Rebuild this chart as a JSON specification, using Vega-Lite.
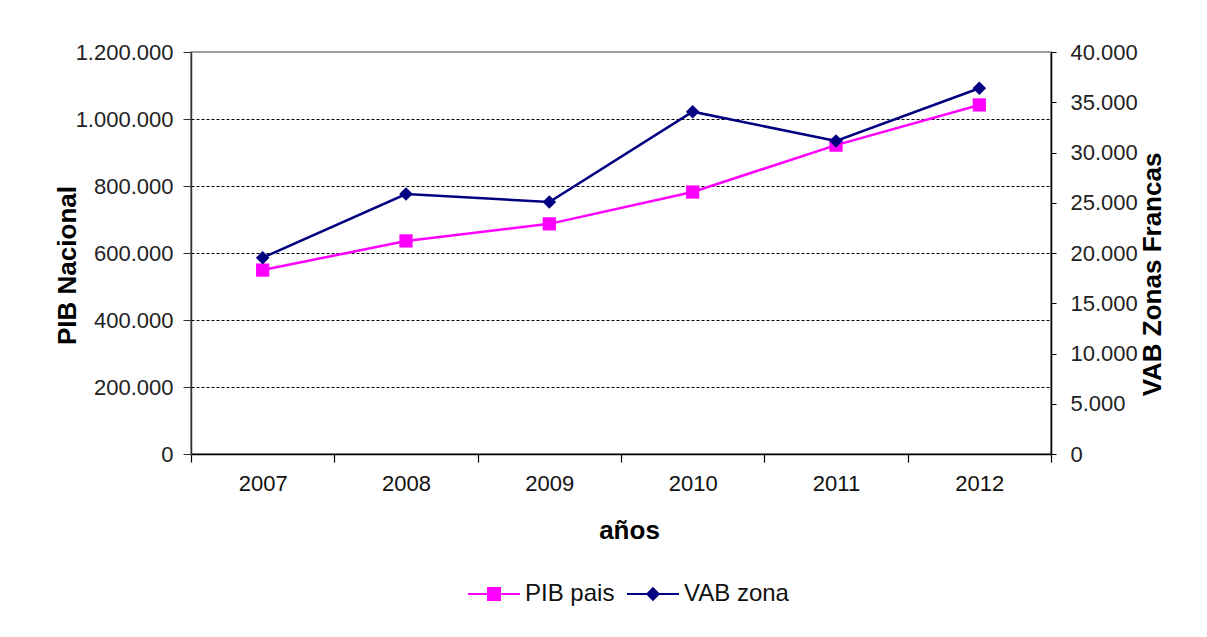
{
  "$schema": "https://vega.github.io/schema/vega-lite/v6.json",
  "autosize": {"type": "none"},
  "padding": {"left": 191, "top": 52, "right": 156, "bottom": 183},
  "width": 860,
  "height": 402,
  "background": "white",
  "data": {
    "values": [
      {"anio": "2007", "serie": "PIB pais", "valor": 549000},
      {"anio": "2008", "serie": "PIB pais", "valor": 636000},
      {"anio": "2009", "serie": "PIB pais", "valor": 687000},
      {"anio": "2010", "serie": "PIB pais", "valor": 782000},
      {"anio": "2011", "serie": "PIB pais", "valor": 922000},
      {"anio": "2012", "serie": "PIB pais", "valor": 1042000},
      {"anio": "2007", "serie": "VAB zona", "valor": 19530},
      {"anio": "2008", "serie": "VAB zona", "valor": 25870},
      {"anio": "2009", "serie": "VAB zona", "valor": 25080},
      {"anio": "2010", "serie": "VAB zona", "valor": 34060},
      {"anio": "2011", "serie": "VAB zona", "valor": 31140},
      {"anio": "2012", "serie": "VAB zona", "valor": 36390}
    ]
  },
  "encoding": {
    "x": {
      "field": "anio",
      "type": "ordinal",
      "bandPosition": 0.5,
      "scale": {"type": "band", "paddingInner": 0, "paddingOuter": 0},
      "axis": {
        "title": "años",
        "titleFontSize": 26,
        "titleFontWeight": "bold",
        "titleColor": "black",
        "titleX": 438,
        "titleY": 84,
        "titleBaseline": "alphabetic",
        "titleAlign": "center",
        "labelAngle": 0,
        "labelFontSize": 22,
        "labelColor": "#111",
        "labelPadding": 11,
        "tickBand": "extent",
        "tickSize": 8,
        "tickColor": "black",
        "tickWidth": 1.2,
        "domainColor": "black",
        "domainWidth": 1.5,
        "grid": false
      }
    },
    "color": {
      "field": "serie",
      "type": "nominal",
      "scale": {"domain": ["PIB pais", "VAB zona"], "range": ["#FF00FF", "#000080"]},
      "legend": {
        "title": null,
        "orient": "none",
        "direction": "horizontal",
        "legendX": 276,
        "legendY": 515,
        "labelFontSize": 24,
        "labelColor": "#111",
        "labelOffset": 4,
        "columnPadding": 8,
        "symbolSize": 2704,
        "encode": {
          "symbols": {
            "update": {
              "shape": {"signal": "datum.value == 'PIB pais' ? 'M-1,0H1M-0.23,-0.23H0.23V0.23H-0.23Z' : 'M-1,0H1M0,-0.22L0.22,0L0,0.22L-0.22,0Z'"},
              "stroke": {"signal": "datum.value == 'PIB pais' ? '#FF00FF' : '#000080'"},
              "fill": {"signal": "datum.value == 'PIB pais' ? '#FF00FF' : '#000080'"},
              "strokeWidth": {"value": 2}
            }
          }
        }
      }
    }
  },
  "layer": [
    {
      "transform": [{"filter": "datum.serie == 'PIB pais'"}],
      "encoding": {
        "y": {
          "field": "valor",
          "type": "quantitative",
          "scale": {"domain": [0, 1200000], "nice": false, "zero": true},
          "axis": {
            "orient": "left",
            "values": [0, 200000, 400000, 600000, 800000, 1000000, 1200000],
            "labelExpr": "replace(format(datum.value, ','), regexp(',', 'g'), '.')",
            "labelFontSize": 22,
            "labelColor": "#222",
            "labelPadding": 10,
            "tickSize": 8,
            "tickColor": "#333",
            "domainColor": "#333",
            "domainWidth": 1.5,
            "grid": true,
            "gridColor": "black",
            "gridDash": [3, 2],
            "gridWidth": 1,
            "gridOpacity": {"condition": {"test": "datum.value == 0 || datum.value == 1200000", "value": 0}, "value": 1},
            "title": "PIB Nacional",
            "titleFontSize": 26,
            "titleFontWeight": "bold",
            "titleColor": "black",
            "titleAngle": 270,
            "titleX": -124,
            "titleY": 213,
            "titleBaseline": "middle",
            "titleAlign": "center"
          }
        }
      },
      "layer": [
        {"mark": {"type": "line", "strokeWidth": 2.5}},
        {"mark": {"type": "point", "shape": "square", "filled": true, "opacity": 1, "size": 175}}
      ]
    },
    {
      "transform": [{"filter": "datum.serie == 'VAB zona'"}],
      "encoding": {
        "y": {
          "field": "valor",
          "type": "quantitative",
          "scale": {"domain": [0, 40000], "nice": false, "zero": true},
          "axis": {
            "orient": "right",
            "values": [0, 5000, 10000, 15000, 20000, 25000, 30000, 35000, 40000],
            "labelExpr": "replace(format(datum.value, ','), regexp(',', 'g'), '.')",
            "labelFontSize": 22,
            "labelColor": "#222",
            "labelPadding": 14,
            "tickSize": 5,
            "tickColor": "black",
            "domainColor": "black",
            "domainWidth": 1.5,
            "grid": false,
            "title": "VAB Zonas Francas",
            "titleFontSize": 26,
            "titleFontWeight": "bold",
            "titleColor": "black",
            "titleAngle": 270,
            "titleX": 101,
            "titleY": 222,
            "titleBaseline": "middle",
            "titleAlign": "center"
          }
        }
      },
      "layer": [
        {"mark": {"type": "line", "strokeWidth": 2.5}},
        {"mark": {"type": "point", "shape": "diamond", "filled": true, "opacity": 1, "size": 185}}
      ]
    }
  ],
  "resolve": {"scale": {"y": "independent"}},
  "config": {
    "font": "Liberation Sans",
    "view": {"stroke": "#808080", "strokeWidth": 1.5}
  }
}
